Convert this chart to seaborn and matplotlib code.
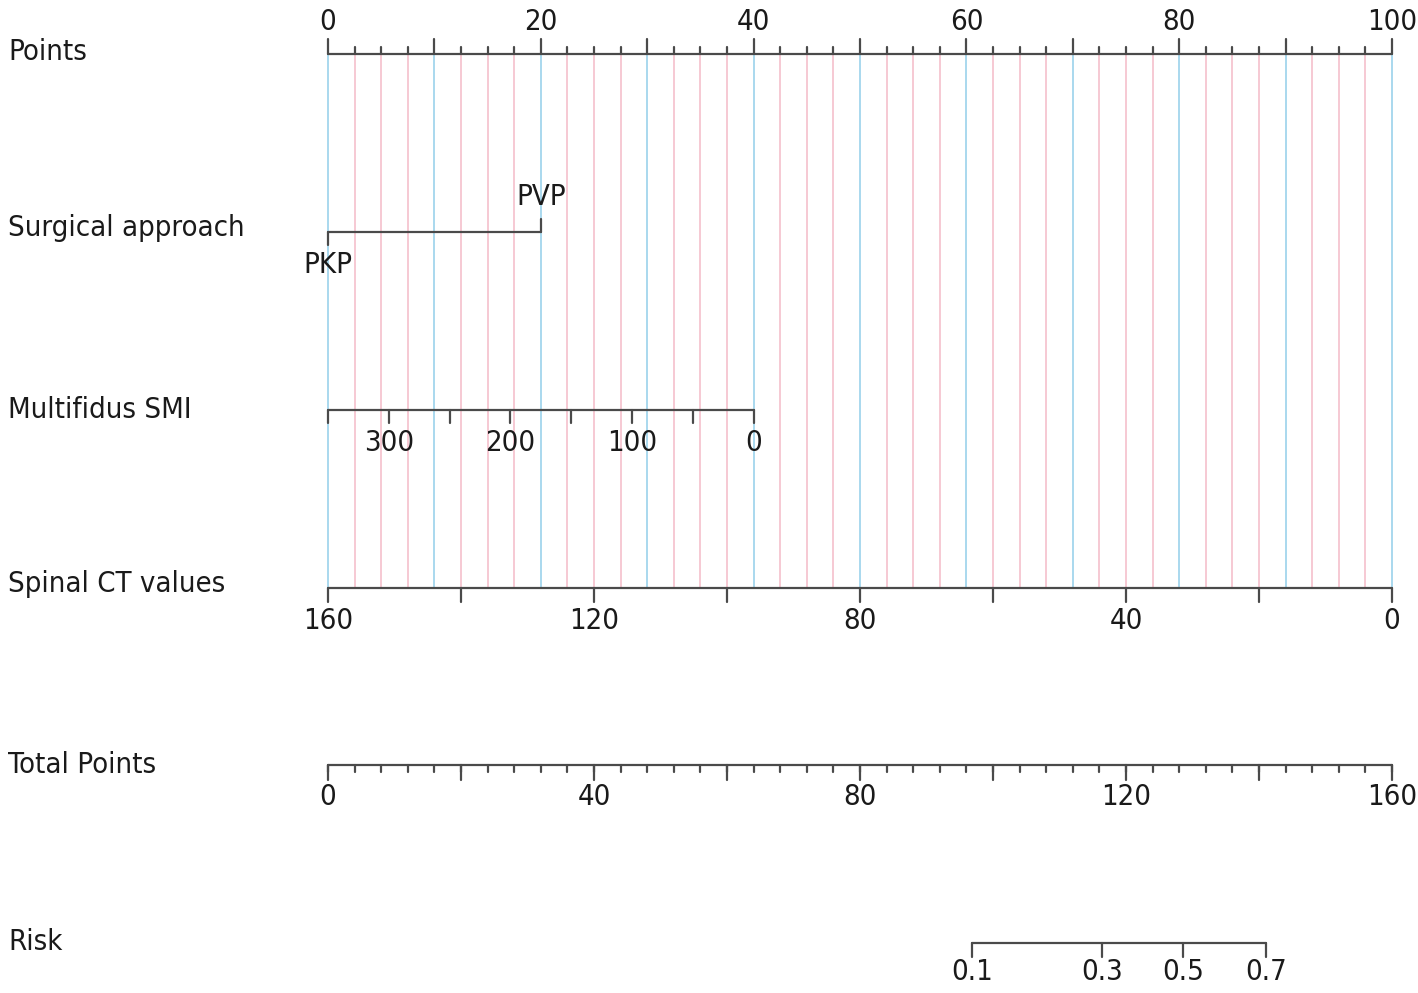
import matplotlib.pyplot as plt
import numpy as np
import seaborn as sns

# Nomogram data
points_minor = np.arange(0, 100.01, 2.5)
points_labels = [0, 20, 40, 60, 80, 100]

approach_levels = ['PKP', 'PVP']
approach_points = [0, 20]

smi_ticks = [350, 300, 250, 200, 150, 100, 50, 0]
smi_labels = [300, 200, 100, 0]
smi_max, smi_max_points = 350, 40

ct_ticks = [160, 140, 120, 100, 80, 60, 40, 20, 0]
ct_labels = [160, 120, 80, 40, 0]
ct_max = 160

total_minor = np.arange(0, 160.01, 4)
total_major = np.arange(0, 160.01, 20)
total_labels = [0, 40, 80, 120, 160]
total_max = 160

risk_values = ['0.1', '0.3', '0.5', '0.7']
risk_total_points = [96.8, 116.4, 128.6, 141.0]

row_names = ['Points', 'Surgical approach', 'Multifidus SMI', 'Spinal CT values', 'Total Points', 'Risk']
row_y = [52, 228, 410, 584, 765, 942]

sns.set_theme(style='white')
plt.rcParams['font.family'] = ['DejaVu Sans']
plt.rcParams['font.stretch'] = 'condensed'

W, H = 1418, 993
fig = plt.figure(figsize=(W / 100, H / 100), dpi=100)
ax = fig.add_axes([0, 0, 1, 1])
ppx = (1392 - 328) / 100.0
ax.set_xlim(-328 / ppx, 100 + (W - 1392) / ppx)
ax.set_ylim(H, 0)
ax.axis('off')

LC = '#4a4a4a'
TC = '#1a1a1a'
FS = 21
lw = 1.6
txt = dict(fontsize=FS, color=TC, fontstretch='condensed')

# grid lines
for p in points_minor:
    col = '#a9d8ee' if abs(p % 10) < 1e-9 else '#f6c9d3'
    ax.plot([p, p], [55, 587], color=col, lw=1.4, zorder=0)

# row names
for name, y in zip(row_names, row_y):
    ax.text(-328 / ppx + 8 / ppx, y, name, ha='left', va='center', **txt)

# Points axis
y0 = 54
ax.plot([0, 100], [y0, y0], color=LC, lw=lw)
for p in points_minor:
    top = y0 - 15 if abs(p % 10) < 1e-9 else y0 - 7
    ax.plot([p, p], [y0, top], color=LC, lw=lw)
for p in points_labels:
    ax.text(p, 22, str(p), ha='center', va='center', **txt)

# Surgical approach
y0 = 232
ax.plot([approach_points[0], approach_points[1]], [y0, y0], color=LC, lw=lw)
ax.plot([approach_points[0]] * 2, [y0, y0 + 13], color=LC, lw=lw)
ax.plot([approach_points[1]] * 2, [y0, y0 - 13], color=LC, lw=lw)
ax.text(approach_points[0], 265, approach_levels[0], ha='center', va='center', **txt)
ax.text(approach_points[1], 197, approach_levels[1], ha='center', va='center', **txt)

# Multifidus SMI
y0 = 410
smi_pts = [smi_max_points * (smi_max - v) / smi_max for v in smi_ticks]
ax.plot([min(smi_pts), max(smi_pts)], [y0, y0], color=LC, lw=lw)
for p in smi_pts:
    ax.plot([p, p], [y0, y0 + 13], color=LC, lw=lw)
for v in smi_labels:
    ax.text(smi_max_points * (smi_max - v) / smi_max, 443, str(v), ha='center', va='center', **txt)

# Spinal CT values
y0 = 588
ax.plot([0, 100], [y0, y0], color=LC, lw=lw)
for v in ct_ticks:
    p = 100 * (ct_max - v) / ct_max
    ax.plot([p, p], [y0, y0 + 14], color=LC, lw=lw)
for v in ct_labels:
    ax.text(100 * (ct_max - v) / ct_max, 621, str(v), ha='center', va='center', **txt)

# Total Points
y0 = 765
ax.plot([0, 100], [y0, y0], color=LC, lw=lw)
for v in total_minor:
    p = 100 * v / total_max
    ax.plot([p, p], [y0, y0 + 7], color=LC, lw=lw)
for v in total_major:
    p = 100 * v / total_max
    ax.plot([p, p], [y0, y0 + 15], color=LC, lw=lw)
for v in total_labels:
    ax.text(100 * v / total_max, 797, str(v), ha='center', va='center', **txt)

# Risk
y0 = 943
rp = [100 * v / total_max for v in risk_total_points]
ax.plot([rp[0], rp[-1]], [y0, y0], color=LC, lw=lw)
for p, lab in zip(rp, risk_values):
    ax.plot([p, p], [y0, y0 + 14], color=LC, lw=lw)
    ax.text(p, 972, lab, ha='center', va='center', **txt)

fig.savefig('out.png', dpi=100)
